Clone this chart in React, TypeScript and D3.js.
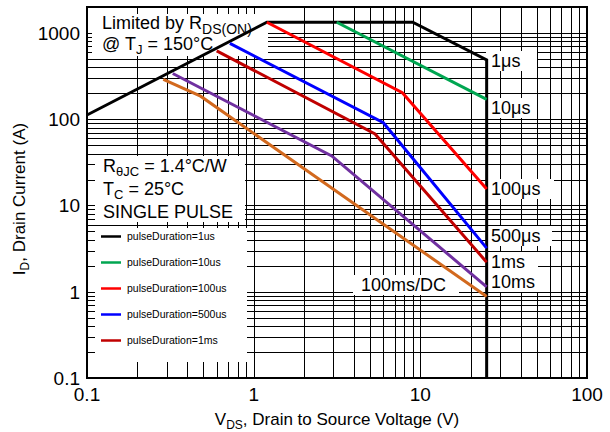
import React from "react";
import * as d3 from "d3";

const W = 610;
const H = 432;
const FONT = '"Liberation Sans", Arial, Helvetica, sans-serif';

// axis ranges and labelled ticks
const xDomain = [0.1, 100];
const yDomain = [0.1, 2000];
const xTickValues = [0.1, 1, 10, 100];
const yTickValues = [0.1, 1, 10, 100, 1000];
const tickLabels = ["0.1", "1", "10", "100", "1000"];

// SOA curve corners, [V_DS (V), I_D (A)]
const curve1us = [[0.1, 112], [1.2, 1330], [9, 1330], [25, 486], [25, 0.1]];
const curve10us = [[3.15, 1330], [25, 170]];
const curve100us = [[1.2, 1330], [7.8, 203], [25, 15.5]];
const curve500us = [[0.72, 757], [6.0, 91], [25, 3.2]];
const curve1ms = [[0.6, 621], [5.35, 67.5], [25, 2.2]];
const curve10ms = [[0.327, 339], [2.94, 37.5], [25, 1.14]];
const curve100ms = [[0.287, 289], [0.48, 185], [25, 0.88]];

const curveColors = ["#000000", "#00a651", "#ff0000", "#0000ff", "#c00000", "#7030a0", "#d2691e"];
const legendLabels = [
  "pulseDuration=1us",
  "pulseDuration=10us",
  "pulseDuration=100us",
  "pulseDuration=500us",
  "pulseDuration=1ms",
];

// right side annotations: text, left x, baseline, box width
const endLabels = [
  { t: "1μs", x: 491, y: 67, w: 51, bx: 486 },
  { t: "10μs", x: 491, y: 114, w: 51, bx: 486 },
  { t: "100μs", x: 491, y: 195, w: 68, bx: 486 },
  { t: "500μs", x: 491, y: 242, w: 66, bx: 486 },
  { t: "1ms", x: 491, y: 268, w: 52, bx: 486 },
  { t: "10ms", x: 491, y: 288, w: 56, bx: 486 },
  { t: "100ms/DC", x: 361, y: 291, w: 106, bx: 353 },
];

export default function App() {
  const x = d3.scaleLog().domain(xDomain).range([87, 587]);
  const y = d3.scaleLog().domain(yDomain).range([378, 7]);

  const crisp = (v: number) => Math.round(v) + 0.5;

  // minor + major log grid
  const xGrid: number[] = [];
  for (let e = -1; e <= 1; e++) for (let k = 1; k <= 9; k++) xGrid.push(k * Math.pow(10, e));
  const yGrid: number[] = [];
  for (let e = -1; e <= 3; e++) for (let k = 1; k <= 9; k++) {
    const v = k * Math.pow(10, e);
    if (v < 2000) yGrid.push(v);
  }

  const line = d3
    .line<number[]>()
    .x((d) => x(d[0]))
    .y((d) => y(d[1]));

  const curves = [curve1us, curve10us, curve100us, curve500us, curve1ms, curve10ms, curve100ms];

  const [x0, x1] = x.range();
  const [y0, y1] = y.range();

  return (
    <svg
      width={W}
      height={H}
      style={{ position: "absolute", left: 0, top: 0, background: "#fff", fontFamily: FONT }}
    >
      <rect width={W} height={H} fill="#fff" />

      {/* grid */}
      <g stroke="#000" strokeWidth={1}>
        {xGrid.map((v, i) => (
          <line key={"gx" + i} x1={crisp(x(v))} x2={crisp(x(v))} y1={y1} y2={y0} />
        ))}
        {yGrid.map((v, i) => (
          <line key={"gy" + i} x1={x0} x2={x1} y1={crisp(y(v))} y2={crisp(y(v))} />
        ))}
      </g>

      {/* white annotation boxes hiding grid */}
      <g fill="#fff">
        <rect x={92} y={14} width={176} height={42} />
        <rect x={95} y={156} width={150} height={66} />
        <rect x={95} y={228} width={152} height={134} />
        {endLabels.map((l, i) => (
          <rect key={"lb" + i} x={l.bx} y={l.y - 16} width={l.w} height={20} />
        ))}
      </g>

      {/* curves */}
      <g fill="none" strokeLinejoin="miter">
        {curves.map((c, i) => (
          <path key={"c" + i} d={line(c) || ""} stroke={curveColors[i]} strokeWidth={3} />
        ))}
      </g>

      {/* frame */}
      <rect x={x0} y={y1} width={x1 - x0} height={y0 - y1} fill="none" stroke="#000" strokeWidth={2} />

      {/* tick labels */}
      <g fontSize={19} fill="#000">
        {xTickValues.map((v, i) => (
          <text key={"xt" + i} x={x(v)} y={401} textAnchor="middle">
            {tickLabels[i]}
          </text>
        ))}
        {yTickValues.map((v, i) => (
          <text key={"yt" + i} x={80} y={y(v) + 7} textAnchor="end">
            {tickLabels[i]}
          </text>
        ))}
      </g>

      {/* axis titles */}
      <text x={337} y={425} fontSize={17} textAnchor="middle">
        V<tspan fontSize={12} dy={4}>DS</tspan>
        <tspan dy={-4}>, Drain to Source Voltage (V)</tspan>
      </text>
      <text transform="translate(25,199) rotate(-90)" fontSize={17} textAnchor="middle">
        I<tspan fontSize={12} dy={4}>D</tspan>
        <tspan dy={-4}>, Drain Current (A)</tspan>
      </text>

      {/* annotations */}
      <g fontSize={18} fill="#000">
        <text x={102} y={29}>
          Limited by R<tspan fontSize={14} dy={5}>DS(ON)</tspan>
        </text>
        <text x={102} y={50}>
          @ T<tspan fontSize={13} dy={4}>J</tspan>
          <tspan dy={-4}> = 150°C</tspan>
        </text>
        <text x={103} y={172}>
          R<tspan fontSize={13} dy={4}>θJC</tspan>
          <tspan dy={-4}> = 1.4°C/W</tspan>
        </text>
        <text x={103} y={195}>
          T<tspan fontSize={13} dy={4}>C</tspan>
          <tspan dy={-4}> = 25°C</tspan>
        </text>
        <text x={103} y={218}>SINGLE PULSE</text>
        {endLabels.map((l, i) => (
          <text key={"el" + i} x={l.x} y={l.y}>
            {l.t}
          </text>
        ))}
      </g>

      {/* legend */}
      <g fontSize={10.5}>
        {legendLabels.map((s, i) => {
          const ly = 240 + i * 26;
          return (
            <g key={"lg" + i}>
              <line x1={101} x2={121} y1={ly - 3.5} y2={ly - 3.5} stroke={curveColors[i]} strokeWidth={2.5} />
              <text x={127} y={ly} fill="#000">
                {s}
              </text>
            </g>
          );
        })}
      </g>
    </svg>
  );
}
